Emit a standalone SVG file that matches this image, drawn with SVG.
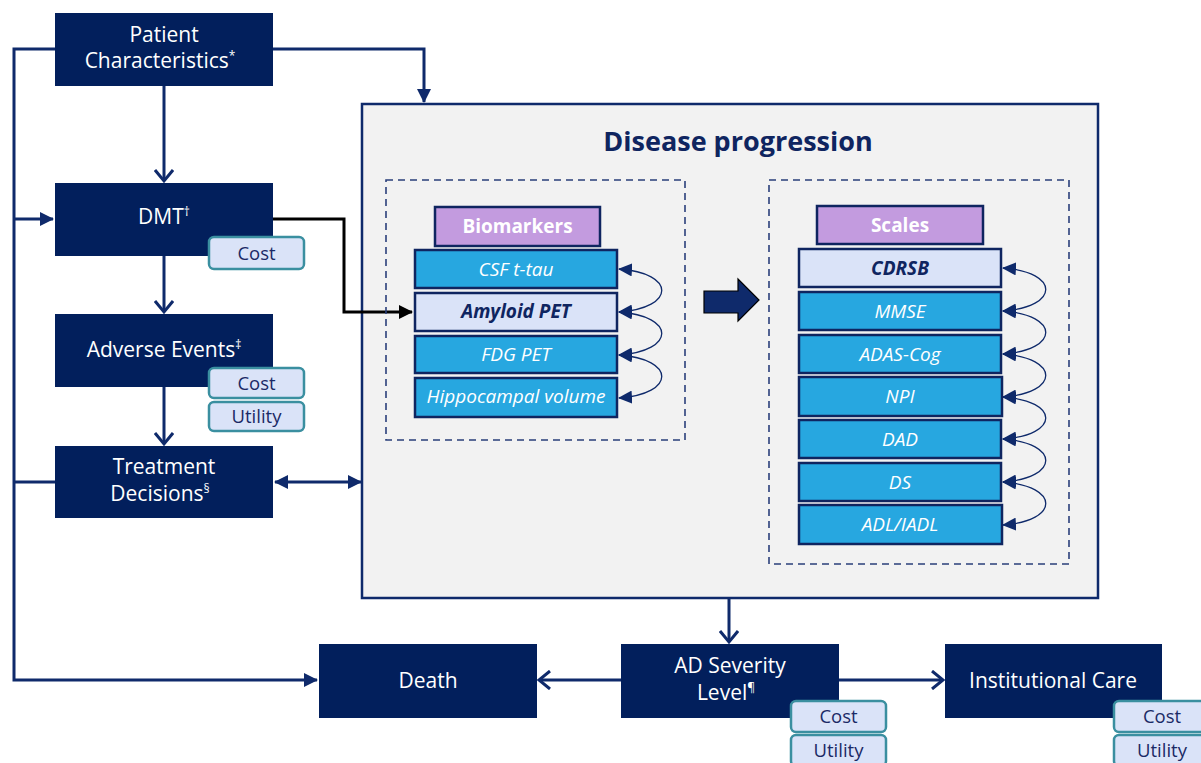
<svg xmlns="http://www.w3.org/2000/svg" width="1201" height="763" viewBox="0 0 1201 763">
<defs>
<style>
.node{fill:#021f5c}
.nt{font-family:"Open Sans","Liberation Sans",sans-serif;font-size:21px;fill:#ffffff;text-anchor:middle}
.sup{font-size:12px}
.tag{fill:#dae3f8;stroke:#3a8fa0;stroke-width:2.5}
.tt{font-family:"Open Sans","Liberation Sans",sans-serif;font-size:18.5px;fill:#1a2a66;text-anchor:middle}
.hdr{fill:#c39bdf;stroke:#0f2560;stroke-width:2.5}
.ht{font-family:"Open Sans","Liberation Sans",sans-serif;font-size:19px;font-weight:bold;fill:#ffffff;text-anchor:middle}
.item{fill:#27a7e0;stroke:#0f2560;stroke-width:2.5}
.iteml{fill:#dae3f8;stroke:#0f2560;stroke-width:2.5}
.it{font-family:"Open Sans","Liberation Sans",sans-serif;font-size:19px;font-style:italic;fill:#ffffff;text-anchor:middle}
.itb{font-family:"Open Sans","Liberation Sans",sans-serif;font-size:19px;font-style:italic;font-weight:bold;fill:#0f2560;text-anchor:middle}
.dash{fill:none;stroke:#2a3f7a;stroke-width:1.6;stroke-dasharray:7 5}
.c{fill:none;stroke:#0f2a6b;stroke-width:3}
.cb{fill:none;stroke:#000000;stroke-width:3}
.cv{fill:none;stroke:#0f2a6b;stroke-width:1.3}
</style>
<marker id="tri" markerUnits="userSpaceOnUse" markerWidth="14" markerHeight="14" viewBox="0 0 14 14" refX="13" refY="7" orient="auto-start-reverse">
<path d="M0,0 L14,7 L0,14 z" fill="#0f2a6b"/>
</marker>
<marker id="trib" markerUnits="userSpaceOnUse" markerWidth="14" markerHeight="14" viewBox="0 0 14 14" refX="13" refY="7" orient="auto-start-reverse">
<path d="M0,0 L14,7 L0,14 z" fill="#000000"/>
</marker>
<marker id="chev" markerUnits="userSpaceOnUse" markerWidth="16" markerHeight="20" viewBox="0 0 16 20" refX="13" refY="10" orient="auto-start-reverse">
<path d="M2,1 L13,10 L2,19" fill="none" stroke="#0f2a6b" stroke-width="3"/>
</marker>
<marker id="sm" markerUnits="userSpaceOnUse" markerWidth="14" markerHeight="13" viewBox="0 0 14 13" refX="13" refY="6.5" orient="auto-start-reverse">
<path d="M0,0 L14,6.5 L0,13 z" fill="#0f2a6b"/>
</marker>
</defs>
<rect width="1201" height="763" fill="#ffffff"/>

<g id="disease-progression">
<rect x="362" y="104" width="736" height="494" fill="#f2f2f2" stroke="#0f2a6b" stroke-width="2.5"/>
<text x="738" y="151" font-family="'Open Sans','Liberation Sans',sans-serif" font-size="27" font-weight="bold" fill="#0f2560" text-anchor="middle">Disease progression</text>
</g>

<g id="connectors">
<path class="c" d="M55,49 H14 V680 H317" marker-end="url(#tri)"/>
<path class="c" d="M14,219 H53" marker-end="url(#tri)"/>
<path class="c" d="M55,482 H14"/>
<path class="c" d="M273,49 H424 V102" marker-end="url(#tri)"/>
<path class="c" d="M164,86 V181" marker-end="url(#chev)"/>
<path class="c" d="M164,256 V312" marker-end="url(#chev)"/>
<path class="c" d="M164,387 V444" marker-end="url(#chev)"/>
<path class="c" d="M275,482 H361" marker-start="url(#tri)" marker-end="url(#tri)"/>
<path class="cb" d="M273,219 H344 V312 H412" marker-end="url(#trib)"/>
<path class="c" d="M729,598 V642" marker-end="url(#chev)"/>
<path class="c" d="M621,680 H539" marker-end="url(#chev)"/>
<path class="c" d="M839,680 H943" marker-end="url(#chev)"/>
<path d="M704,291 H738 V279 L759,300 L738,321 V313 H704 z" fill="#0f2a6b" stroke="#000000" stroke-width="1.2"/>
<path class="cv" d="M619,312 C676,308 676,273 619,269" marker-start="url(#sm)" marker-end="url(#sm)"/>
<path class="cv" d="M619,355 C676,351 676,316 619,312" marker-start="url(#sm)" marker-end="url(#sm)"/>
<path class="cv" d="M619,398 C676,394 676,359 619,355" marker-start="url(#sm)" marker-end="url(#sm)"/>
<path class="cv" d="M1003,311 C1060,307 1060,272 1003,268" marker-start="url(#sm)" marker-end="url(#sm)"/>
<path class="cv" d="M1003,354 C1060,350 1060,315 1003,311" marker-start="url(#sm)" marker-end="url(#sm)"/>
<path class="cv" d="M1003,397 C1060,393 1060,358 1003,354" marker-start="url(#sm)" marker-end="url(#sm)"/>
<path class="cv" d="M1003,439 C1060,435 1060,401 1003,397" marker-start="url(#sm)" marker-end="url(#sm)"/>
<path class="cv" d="M1003,482 C1060,478 1060,443 1003,439" marker-start="url(#sm)" marker-end="url(#sm)"/>
<path class="cv" d="M1003,525 C1060,521 1060,486 1003,482" marker-start="url(#sm)" marker-end="url(#sm)"/>
</g>

<g id="patient-characteristics">
<rect class="node" x="55" y="13" width="218" height="73"/>
<text class="nt" x="164" y="42">Patient</text>
<text class="nt" x="160" y="68">Characteristics<tspan class="sup" dy="-8">*</tspan></text>
</g>

<g id="dmt">
<rect class="node" x="55" y="183" width="218" height="73"/>
<text class="nt" x="164" y="224">DMT<tspan class="sup" dy="-8">†</tspan></text>
<rect class="tag" x="209" y="237" width="95" height="32" rx="5"/>
<text class="tt" x="256.5" y="260">Cost</text>
</g>

<g id="adverse-events">
<rect class="node" x="55" y="314" width="218" height="73"/>
<text class="nt" x="164" y="357">Adverse Events<tspan class="sup" dy="-8">‡</tspan></text>
<rect class="tag" x="209" y="368" width="95" height="30" rx="5"/>
<text class="tt" x="256.5" y="390">Cost</text>
<rect class="tag" x="209" y="402" width="95" height="29" rx="5"/>
<text class="tt" x="256.5" y="423">Utility</text>
</g>

<g id="treatment-decisions">
<rect class="node" x="55" y="446" width="218" height="72"/>
<text class="nt" x="164" y="474">Treatment</text>
<text class="nt" x="160" y="501">Decisions<tspan class="sup" dy="-8">§</tspan></text>
</g>

<g id="biomarkers">
<rect class="dash" x="386" y="180" width="299" height="260"/>
<rect class="hdr" x="435" y="207" width="165" height="39"/>
<text class="ht" x="517.5" y="233">Biomarkers</text>
<rect class="item" x="415" y="250" width="202" height="38"/>
<text class="it" x="516" y="276">CSF t-tau</text>
<rect class="iteml" x="415" y="293" width="202" height="38"/>
<text class="itb" x="516" y="318">Amyloid PET</text>
<rect class="item" x="415" y="336" width="202" height="37"/>
<text class="it" x="516" y="361">FDG PET</text>
<rect class="item" x="415" y="378" width="202" height="39"/>
<text class="it" x="516" y="403" font-size="15.5">Hippocampal volume</text>
</g>

<g id="scales">
<rect class="dash" x="769" y="180" width="300" height="384"/>
<rect class="hdr" x="817" y="206" width="166" height="38"/>
<text class="ht" x="900" y="232">Scales</text>
<rect class="iteml" x="799" y="249" width="202" height="38"/>
<text class="itb" x="900" y="275">CDRSB</text>
<rect class="item" x="799" y="292" width="202" height="38"/>
<text class="it" x="900" y="318">MMSE</text>
<rect class="item" x="799" y="335" width="202" height="38"/>
<text class="it" x="900" y="361">ADAS-Cog</text>
<rect class="item" x="799" y="377" width="203" height="39"/>
<text class="it" x="900" y="403">NPI</text>
<rect class="item" x="799" y="420" width="202" height="38"/>
<text class="it" x="900" y="446">DAD</text>
<rect class="item" x="799" y="463" width="202" height="38"/>
<text class="it" x="900" y="489">DS</text>
<rect class="item" x="799" y="505" width="203" height="39"/>
<text class="it" x="900" y="531">ADL/IADL</text>
</g>

<g id="death">
<rect class="node" x="319" y="644" width="218" height="74"/>
<text class="nt" x="428" y="688">Death</text>
</g>

<g id="ad-severity">
<rect class="node" x="621" y="644" width="218" height="74"/>
<text class="nt" x="730" y="673">AD Severity</text>
<text class="nt" x="726" y="700">Level<tspan class="sup" dy="-8">¶</tspan></text>
<rect class="tag" x="791" y="701" width="95" height="31" rx="5"/>
<text class="tt" x="838.5" y="723">Cost</text>
<rect class="tag" x="791" y="735" width="95" height="31" rx="5"/>
<text class="tt" x="838.5" y="757">Utility</text>
</g>

<g id="institutional-care">
<rect class="node" x="945" y="644" width="217" height="74"/>
<text class="nt" x="1053" y="688">Institutional Care</text>
<rect class="tag" x="1114" y="701" width="96" height="31" rx="5"/>
<text class="tt" x="1162" y="723">Cost</text>
<rect class="tag" x="1114" y="735" width="96" height="31" rx="5"/>
<text class="tt" x="1162" y="757">Utility</text>
</g>
</svg>
